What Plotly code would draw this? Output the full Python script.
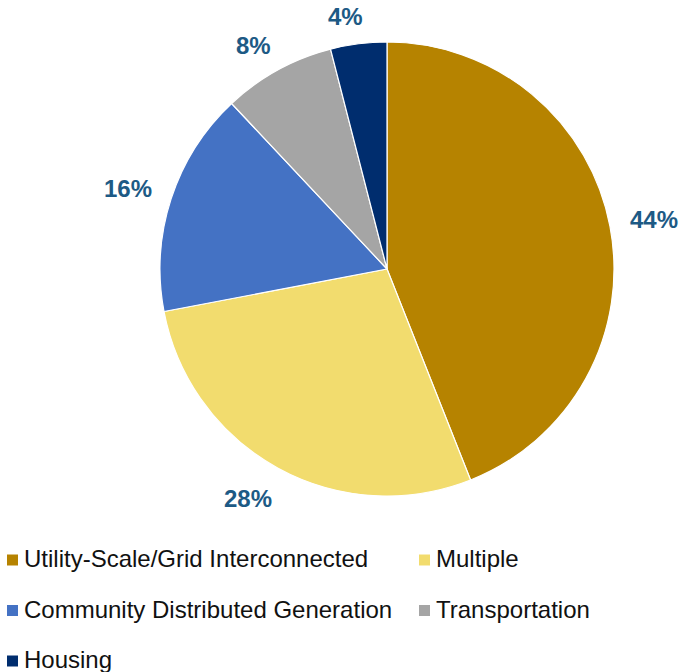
import math
import plotly.graph_objects as go

# Share of projects by category
categories = [
    "Utility-Scale/Grid Interconnected",
    "Multiple",
    "Community Distributed Generation",
    "Transportation",
    "Housing",
]
shares = [44, 28, 16, 8, 4]
colors = ["#B68300", "#F2DC6E", "#4472C4", "#A5A5A5", "#002D6E"]

W, H = 682, 672
CX, CY, R = 387, 269, 227          # pie centre and radius, in pixels
LABEL_COLOR = "#1D5A85"
FONT = "Liberation Sans, Arial, sans-serif"


def px_x(x):
    return x / W


def px_y(y):
    return 1 - y / H


fig = go.Figure(
    go.Pie(
        labels=categories,
        values=shares,
        marker=dict(colors=colors, line=dict(color="white", width=1.2)),
        sort=False,
        direction="clockwise",
        rotation=0,
        textinfo="none",
        hoverinfo="label+percent",
        showlegend=False,
        domain=dict(x=[px_x(CX - R), px_x(CX + R)], y=[px_y(CY + R), px_y(CY - R)]),
    )
)


def soft_sign(v):
    return math.copysign(abs(v) ** 0.25, v)


# Percentage labels placed just outside each slice, at the slice's mid angle
annotations = []
total = sum(shares)
cum = 0
for val in shares:
    mid = (cum + val / 2) / total * 2 * math.pi
    cum += val
    s, c = math.sin(mid), -math.cos(mid)
    text = f"{round(val / total * 100)}%"
    w = 13 * len(text) + 8
    h = 19
    rr = R + 21
    lx = CX + rr * s + w / 2 * soft_sign(s)
    ly = CY + rr * c + h / 2 * soft_sign(c) + 3
    annotations.append(
        dict(
            x=px_x(lx), y=px_y(ly), xref="paper", yref="paper",
            text=f"<b>{text}</b>", showarrow=False,
            xanchor="center", yanchor="middle",
            font=dict(family=FONT, size=24, color=LABEL_COLOR),
        )
    )

# Legend: two columns of colour swatches with category names
shapes = []
col_x = [7, 419]
row_y = [560, 610.5, 661]
sq = 11
for i, (name, col) in enumerate(zip(categories, colors)):
    r, k = divmod(i, 2)
    x0, yc = col_x[k], row_y[r]
    shapes.append(
        dict(
            type="rect", xref="paper", yref="paper",
            x0=px_x(x0), x1=px_x(x0 + sq),
            y0=px_y(yc + sq / 2), y1=px_y(yc - sq / 2),
            fillcolor=col, line=dict(width=0),
        )
    )
    annotations.append(
        dict(
            x=px_x(x0 + sq + 4), y=px_y(yc - 1.5), xref="paper", yref="paper",
            text=name, showarrow=False, xanchor="left", yanchor="middle",
            font=dict(family=FONT, size=24, color="#111111"),
        )
    )

fig.update_layout(
    width=W,
    height=H,
    margin=dict(l=0, r=0, t=0, b=0),
    paper_bgcolor="white",
    plot_bgcolor="white",
    annotations=annotations,
    shapes=shapes,
)

fig.write_html("out.html")
